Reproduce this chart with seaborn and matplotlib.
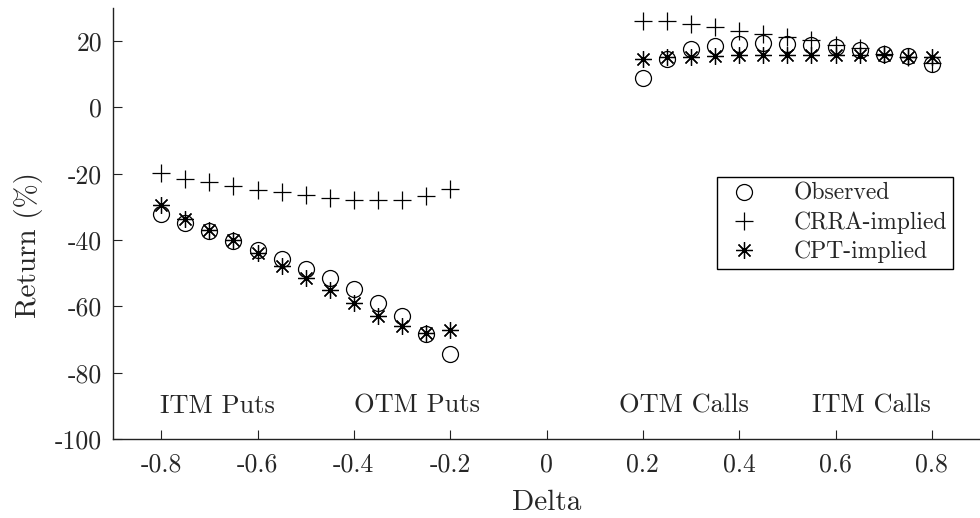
import matplotlib
matplotlib.use("Agg")
import matplotlib.pyplot as plt
import seaborn as sns
import pandas as pd

# ---- data ----
delta = [-0.80, -0.75, -0.70, -0.65, -0.60, -0.55, -0.50, -0.45, -0.40, -0.35, -0.30, -0.25, -0.20,
         0.20, 0.25, 0.30, 0.35, 0.40, 0.45, 0.50, 0.55, 0.60, 0.65, 0.70, 0.75, 0.80]
observed = [-32.0, -34.8, -37.3, -40.3, -43.1, -45.7, -48.6, -51.4, -54.7, -58.9, -63.0, -68.2, -74.4,
            8.8, 14.7, 17.7, 18.5, 19.2, 19.4, 19.2, 18.9, 18.2, 17.2, 16.2, 15.4, 13.2]
crra = [-19.8, -21.5, -22.5, -23.7, -24.8, -25.5, -26.5, -27.3, -27.8, -28.0, -27.8, -26.8, -24.5,
        26.2, 26.0, 25.2, 24.2, 23.2, 22.2, 21.2, 20.2, 18.9, 17.9, 16.2, 15.2, 13.5]
cpt = [-29.5, -33.5, -37.0, -40.1, -43.9, -47.8, -51.4, -55.1, -59.1, -62.9, -65.9, -68.0, -67.2,
       14.7, 15.2, 15.2, 15.5, 15.7, 15.7, 15.7, 15.9, 15.9, 15.9, 15.9, 15.2, 15.2]
series_labels = ["Observed", "CRRA-implied", "CPT-implied"]
region_labels = ["ITM Puts", "OTM Puts", "OTM Calls", "ITM Calls"]
region_x = [-0.684, -0.268, 0.285, 0.674]
region_y = -90
xticks = [-0.8, -0.6, -0.4, -0.2, 0, 0.2, 0.4, 0.6, 0.8]
xticklabels = ["-0.8", "-0.6", "-0.4", "-0.2", "0", "0.2", "0.4", "0.6", "0.8"]
yticks = [-100, -80, -60, -40, -20, 0, 20]
yticklabels = ["-100", "-80", "-60", "-40", "-20", "0", "20"]

df = pd.DataFrame({"delta": delta, "obs": observed, "crra": crra, "cpt": cpt})

sns.set_theme(style="ticks")
plt.rcParams["font.family"] = ["cmr10", "DejaVu Serif"]
plt.rcParams["axes.unicode_minus"] = False
plt.rcParams["mathtext.fontset"] = "cm"

fig = plt.figure(figsize=(9.8, 5.18), dpi=100)
ax = fig.add_axes([113 / 980, 1 - 439 / 518, 1 - 113 / 980, (439 - 8) / 518])

common = dict(ax=ax, estimator=None, sort=False, linestyle="", color="black")
sns.lineplot(data=df, x="delta", y="obs", marker="o", markersize=11.5,
             markerfacecolor="none", markeredgecolor="black", markeredgewidth=0.9,
             label=series_labels[0], **common)
sns.lineplot(data=df, x="delta", y="crra", marker="+", markersize=13,
             markeredgecolor="black", markeredgewidth=0.9,
             label=series_labels[1], **common)
sns.lineplot(data=df, x="delta", y="cpt", marker=(8, 2, 0), markersize=12,
             markeredgecolor="black", markeredgewidth=0.9,
             label=series_labels[2], **common)

ax.set_xlim(-0.9, 0.9)
ax.set_ylim(-100, 30)
ax.set_xticks(xticks)
ax.set_xticklabels(xticklabels)
ax.set_yticks(yticks)
ax.set_yticklabels(yticklabels)
ax.tick_params(direction="in", length=6.5, width=0.8, labelsize=18.5, color="#222222")
ax.tick_params(axis="x", pad=10)
ax.tick_params(axis="y", pad=8)
for s in ["top", "right"]:
    ax.spines[s].set_visible(False)
for s in ["left", "bottom"]:
    ax.spines[s].set_linewidth(1.0)
    ax.spines[s].set_color("#222222")

ax.set_xlabel("Delta", fontsize=21)
ax.set_ylabel("Return (%)", fontsize=21)
ax.xaxis.label.set_verticalalignment("baseline")
ax.xaxis.set_label_coords(0.5, -0.165)
ax.yaxis.set_label_coords(-0.081, 0.45)

for lab, xx in zip(region_labels, region_x):
    ax.text(xx, region_y, lab, ha="center", va="center", fontsize=19)

leg = ax.legend(loc="upper right", bbox_to_anchor=(0.969, 0.608), fontsize=17,
                frameon=True, fancybox=False, edgecolor="black", framealpha=1,
                handlelength=1.8, handletextpad=1.2, borderpad=0.25, labelspacing=0.28,
                borderaxespad=0)
leg.get_frame().set_linewidth(1.0)

ax.grid(False)
fig.savefig("out.png", dpi=100)
